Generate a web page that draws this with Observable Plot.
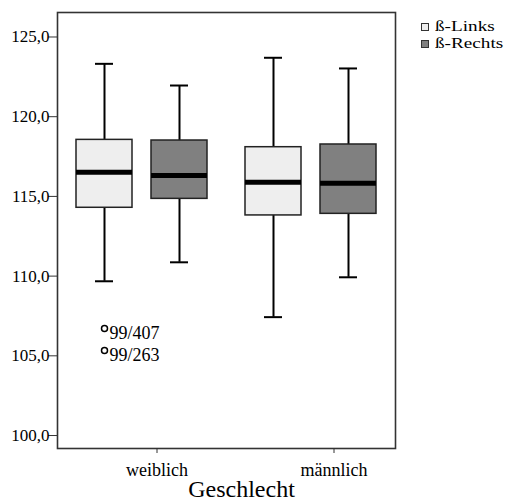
<!DOCTYPE html>
<html>
<head>
<meta charset="utf-8">
<script src="https://cdn.jsdelivr.net/npm/d3@7"></script>
<script src="https://cdn.jsdelivr.net/npm/@observablehq/plot@0.6"></script>
<style>
  html, body { margin: 0; padding: 0; background: #fff; }
  #wrap { position: relative; width: 509px; height: 503px; font-family: "Liberation Serif", Tinos, "Times New Roman", Times, "DejaVu Serif", serif; }
  #legend { position: absolute; left: 421px; top: 18px; font-size: 15px; color: #000; }
  #legend .row { display: flex; align-items: center; height: 17px; white-space: nowrap; }
  #legend .sw { width: 8px; height: 8px; border: 1px solid #333; margin-right: 6px; box-sizing: border-box; }
  #legend .lt { display: inline-block; transform: scaleX(1.28); transform-origin: left center; }
  #xlabel { position: absolute; left: 0; width: 483px; text-align: center; top: 476px; font-size: 24px; color: #000; line-height: 26px; }
</style>
</head>
<body>
<div id="wrap"></div>
<script>
// ---- data ----
const groups = ["weiblich", "männlich"];
const sides = ["ß-Links", "ß-Rechts"];
const sideColors = ["#eeeeee", "#808080"];
// order: weiblich/Links, weiblich/Rechts, männlich/Links, männlich/Rechts
const boxGroup = ["weiblich", "weiblich", "männlich", "männlich"];
const boxSide = ["ß-Links", "ß-Rechts", "ß-Links", "ß-Rechts"];
const whiskerLow = [109.30, 110.49, 107.05, 109.55];
const q1 = [113.91, 114.47, 113.43, 113.53];
const median = [116.14, 115.93, 115.51, 115.45];
const q3 = [118.17, 118.13, 117.71, 117.88];
const whiskerHigh = [122.94, 121.58, 123.32, 122.65];
const outlierGroup = ["weiblich", "weiblich"];
const outlierSide = ["ß-Links", "ß-Links"];
const outlierValue = [106.34, 104.96];
const outlierLabel = ["99/407", "99/263"];
const yTicks = [100, 105, 110, 115, 120, 125];
const yDomain = [98.81, 126.16];
const xTitle = "Geschlecht";

const boxes = boxGroup.map((g, i) => ({
  g, side: boxSide[i], lo: whiskerLow[i], q1: q1[i], med: median[i], q3: q3[i], hi: whiskerHigh[i]
}));
const outliers = outlierValue.map((v, i) => ({g: outlierGroup[i], side: outlierSide[i], v, label: outlierLabel[i]}));

const font = '"Liberation Serif", Tinos, "Times New Roman", Times, "DejaVu Serif", serif';
const fmt = d => d.toFixed(1).replace(".", ",");

const chart = Plot.plot({
  width: 509,
  height: 503,
  marginLeft: 56,
  marginRight: 114,
  marginTop: 12,
  marginBottom: 55,
  style: {fontFamily: font, background: "#fff", color: "#000"},
  fx: {domain: groups, paddingInner: 0, paddingOuter: 0, axis: null},
  x: {domain: sides, paddingInner: 0.25, paddingOuter: 0.24, axis: null},
  y: {domain: yDomain, axis: null},
  color: {domain: sides, range: sideColors},
  marks: [
    Plot.frame({facet: "super", stroke: "#333", strokeWidth: 1.6}),
    Plot.axisY({ticks: yTicks, tickFormat: fmt, tickSize: 9, tickPadding: -1, fontSize: 17, fontFamily: font, dy: 6, stroke: "#333", fill: "#000", label: null}),
    Plot.axisFx({ticks: [groups[0]], anchor: "bottom", tickSize: 5, tickPadding: 10, fontSize: 18, fontFamily: font, fill: "#000", stroke: "#333", label: null, dx: 15}),
    Plot.axisFx({ticks: [groups[1]], anchor: "bottom", tickSize: 5, tickPadding: 10, fontSize: 18, fontFamily: font, fill: "#000", stroke: "#333", label: null, dx: 23}),
    Plot.ruleX(boxes, {fx: "g", x: "side", y1: "lo", y2: "hi", stroke: "#000", strokeWidth: 2}),
    Plot.tickY(boxes, {fx: "g", x: "side", y: "lo", stroke: "#000", strokeWidth: 2, insetLeft: 19, insetRight: 19}),
    Plot.tickY(boxes, {fx: "g", x: "side", y: "hi", stroke: "#000", strokeWidth: 2, insetLeft: 19, insetRight: 19}),
    Plot.barY(boxes, {fx: "g", x: "side", y1: "q1", y2: "q3", fill: "side", stroke: "#222", strokeWidth: 1.5}),
    Plot.tickY(boxes, {fx: "g", x: "side", y: "med", stroke: "#000", strokeWidth: 5}),
    Plot.dot(outliers, {fx: "g", x: "side", y: "v", r: 3, stroke: "#000", strokeWidth: 1.5, fill: "#fff"}),
    Plot.text(outliers, {fx: "g", x: "side", y: "v", text: "label", textAnchor: "start", dx: 5, dy: 5, fontSize: 18, fontFamily: font, fill: "#000"})
  ]
});

const wrap = document.getElementById("wrap");
wrap.appendChild(chart);

const legend = document.createElement("div");
legend.id = "legend";
sides.forEach((s, i) => {
  const row = document.createElement("div");
  row.className = "row";
  const sw = document.createElement("span");
  sw.className = "sw";
  sw.style.background = sideColors[i];
  const t = document.createElement("span");
  t.className = "lt";
  t.textContent = s;
  row.appendChild(sw);
  row.appendChild(t);
  legend.appendChild(row);
});
wrap.appendChild(legend);

const xl = document.createElement("div");
xl.id = "xlabel";
xl.textContent = xTitle;
wrap.appendChild(xl);
</script>
</body>
</html>
